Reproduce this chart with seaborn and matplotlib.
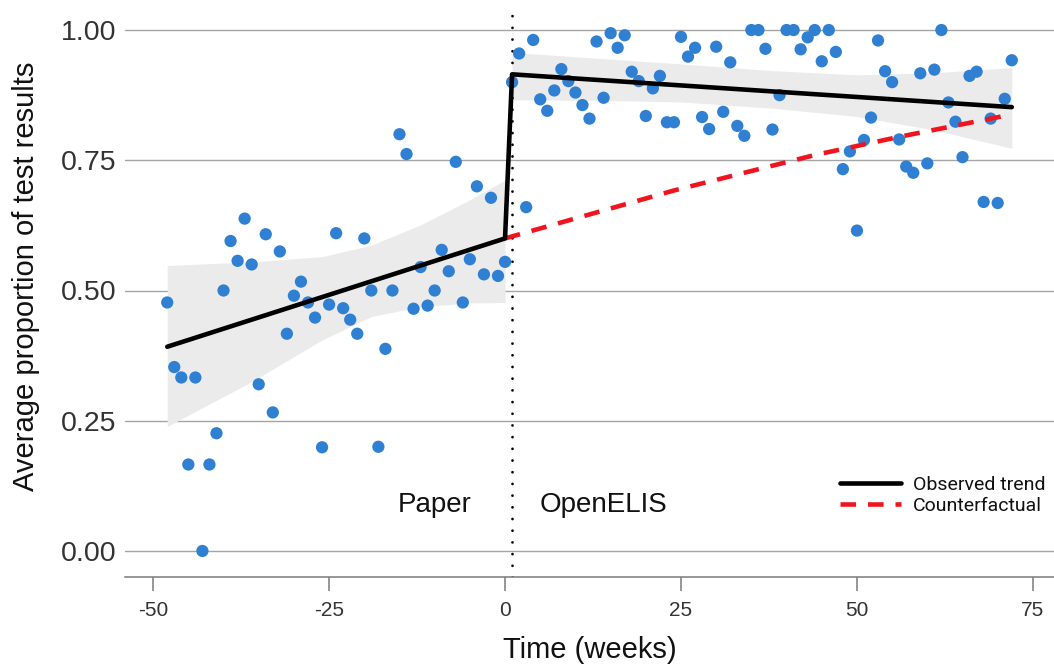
import numpy as np
import pandas as pd
import matplotlib
matplotlib.use("Agg")
import matplotlib.pyplot as plt
from matplotlib.lines import Line2D
import seaborn as sns

# ---------------- data ----------------
pre_weeks = list(range(-48, 1))
pre_props = [0.477, 0.353, 0.333, 0.166, 0.333, 0.000, 0.166, 0.226, 0.500,
             0.595, 0.557, 0.638, 0.550, 0.320, 0.608, 0.266, 0.575, 0.417, 0.490,
             0.517, 0.477, 0.448, 0.199, 0.473, 0.610, 0.466, 0.444, 0.417, 0.600,
             0.500, 0.200, 0.388, 0.500, 0.800, 0.762, 0.465, 0.545, 0.471, 0.500,
             0.578, 0.537, 0.747, 0.477, 0.560, 0.700, 0.531, 0.678, 0.528, 0.555]

post_weeks = list(range(1, 73))
post_props = [0.900, 0.955, 0.660, 0.981, 0.867, 0.845, 0.884, 0.925, 0.902, 0.880,
              0.856, 0.830, 0.978, 0.870, 0.994, 0.966, 0.990, 0.920, 0.902, 0.835,
              0.888, 0.912, 0.823, 0.823, 0.987, 0.949, 0.966, 0.833, 0.810, 0.968,
              0.843, 0.938, 0.816, 0.797, 1.000, 1.000, 0.964, 0.809, 0.875, 1.000,
              1.000, 0.963, 0.986, 1.000, 0.940, 1.000, 0.958, 0.733, 0.767, 0.615,
              0.789, 0.832, 0.980, 0.921, 0.900, 0.790, 0.738, 0.726, 0.917, 0.744,
              0.924, 1.000, 0.861, 0.824, 0.756, 0.912, 0.920, 0.670, 0.830, 0.668,
              0.868, 0.942]

# confidence ribbons of the two segments
pre_band_weeks = [-48, -36, -26, -19, -12, -5, 0]
pre_band_lo = [0.239, 0.325, 0.405, 0.450, 0.469, 0.476, 0.477]
pre_band_hi = [0.548, 0.555, 0.565, 0.587, 0.626, 0.674, 0.712]

post_band_weeks = [1, 13, 25, 38, 50, 61, 72]
post_band_lo = [0.866, 0.865, 0.862, 0.850, 0.834, 0.808, 0.773]
post_band_hi = [0.957, 0.946, 0.935, 0.922, 0.914, 0.918, 0.928]

# model lines
trend_weeks = [-48, 0, 1, 72]
trend_vals = [0.392, 0.600, 0.915, 0.852]

cf_weeks = [0, 24, 44, 56, 72]
cf_vals = [0.600, 0.692, 0.760, 0.795, 0.838]

intervention_week = 1

x_ticks = [-50, -25, 0, 25, 50, 75]
x_tick_labels = ['-50', '-25', '0', '25', '50', '75']
y_ticks = [0.00, 0.25, 0.50, 0.75, 1.00]
y_tick_labels = ['0.00', '0.25', '0.50', '0.75', '1.00']

period_labels = ['Paper', 'OpenELIS']
period_label_x = [-10, 14]
period_label_y = 0.075

legend_labels = ['Observed trend', 'Counterfactual']

# ---------------- styling ----------------
sns.set_style("white")
plt.rcParams['font.family'] = ['Liberation Sans', 'DejaVu Sans']
plt.rcParams['axes.unicode_minus'] = False

POINT = '#2F80D3'
RED = '#F0141E'
BAND = '#ebebeb'

df = pd.DataFrame({
    'week': pre_weeks + post_weeks,
    'prop': pre_props + post_props,
})

fig = plt.figure(figsize=(10.54, 6.69), dpi=100)
ax = fig.add_axes([125 / 1054, 92 / 669, 929 / 1054, 573 / 669])

# ribbons
ax.fill_between(pre_band_weeks, pre_band_lo, pre_band_hi, color=BAND, lw=0, zorder=1)
ax.fill_between(post_band_weeks, post_band_lo, post_band_hi, color=BAND, lw=0, zorder=1)

# intervention line (small round dots)
ax.axvline(intervention_week, color='black', lw=2.0, linestyle=(0, (0.01, 4.2)),
           dash_capstyle='round', zorder=2)

# points
sns.scatterplot(data=df, x='week', y='prop', color=POINT, s=78, edgecolor='none',
                linewidth=0, zorder=3, ax=ax, legend=False)

# counterfactual
sns.lineplot(x=cf_weeks, y=cf_vals, color=RED, lw=3.3, linestyle=(0, (3.4, 2.6)),
             estimator=None, sort=False, zorder=4, ax=ax)
# observed trend
sns.lineplot(x=trend_weeks, y=trend_vals, color='black', lw=3.3,
             estimator=None, sort=False, zorder=5, ax=ax)

# period labels
for lab, xx in zip(period_labels, period_label_x):
    ax.text(xx, period_label_y, lab, ha='center', va='baseline', fontsize=20,
            color='#111111', zorder=6)

# axes
ax.set_xlim(-54, 78)
ax.set_ylim(-0.05, 1.05)
ax.set_xticks(x_ticks)
ax.set_xticklabels(x_tick_labels)
ax.set_yticks(y_ticks)
ax.set_yticklabels(y_tick_labels)

ax.yaxis.grid(True, color='#a4a4a4', lw=1.0)
ax.xaxis.grid(False)
for s in ['left', 'right', 'top']:
    ax.spines[s].set_visible(False)
ax.spines['bottom'].set_color('#7a7a7a')
ax.spines['bottom'].set_linewidth(1.1)

ax.tick_params(axis='x', length=10, width=1.1, color='#7a7a7a', labelsize=15,
               pad=7, labelcolor='#333333', bottom=True)
ax.tick_params(axis='y', length=0, labelsize=20.5, pad=6, labelcolor='#333333')

ax.set_xlabel('Time (weeks)', fontsize=21, color='#111111')
ax.set_ylabel('Average proportion of test results', fontsize=21, color='#111111')
ax.xaxis.set_label_coords(0.5, -0.103)
ax.yaxis.set_label_coords(-0.0915, 0.525)

handles = [Line2D([], [], color='black', lw=3.3),
           Line2D([], [], color=RED, lw=3.3, linestyle=(0, (3.4, 2.6)))]
leg = ax.legend(handles, legend_labels, loc='center left',
                bbox_to_anchor=(0.7696, 0.1428), frameon=False,
                prop={'family': ['Roboto', 'DejaVu Sans'], 'size': 14},
                handlelength=3.15, handletextpad=0.62, labelspacing=0.15,
                borderpad=0, borderaxespad=0)
for t in leg.get_texts():
    t.set_color('#111111')

fig.savefig('out.png', dpi=100)
